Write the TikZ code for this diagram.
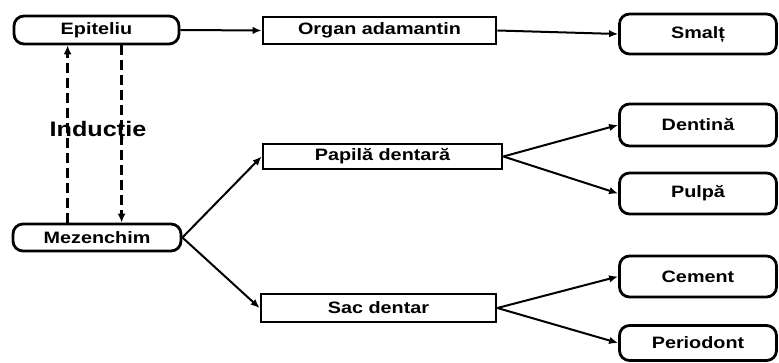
\documentclass[tikz,border=0pt]{standalone}
\usepackage{fontspec}
\setmainfont{Liberation Sans}[FakeStretch=1.2]
\usetikzlibrary{arrows.meta}
\begin{document}
\begin{tikzpicture}[x=1pt,y=-1pt,
  txt/.style={font=\fontsize{16.5}{18}\selectfont\bfseries},
  rbox/.style={txt,draw,line width=2.8pt,rounded corners=10pt,inner sep=0pt},
  sbox/.style={txt,draw,line width=2.8pt,inner sep=0pt},
  arr/.style={line width=2pt,-{Latex[length=9pt,width=7.5pt]}},
  darr/.style={line width=2.6pt,dash pattern=on 10pt off 5pt,-{Latex[length=9pt,width=8pt]}}]
\useasboundingbox (0,0) rectangle (779,363);
% left column
\node[rbox,minimum width=165pt,minimum height=28pt] (epi) at (96.5,30) {Epiteliu};
\node[rbox,minimum width=168pt,minimum height=27pt] (mez) at (97,237.5) {Mezenchim};
% middle column
\node[sbox,minimum width=233pt,minimum height=27pt] (org) at (379.5,30.5) {Organ adamantin};
\node[sbox,minimum width=239pt,minimum height=25pt] (pap) at (382.5,156.5) {Papilă dentară};
\node[sbox,minimum width=235pt,minimum height=28pt] (sac) at (378.5,308) {Sac dentar};
% right column
\node[rbox,minimum width=157pt,minimum height=40pt] (sma) at (698,34) {Smalț};
\node[rbox,minimum width=157pt,minimum height=42pt] (den) at (698,125) {Dentină};
\node[rbox,minimum width=157pt,minimum height=41pt] (pul) at (698,193.5) {Pulpă};
\node[rbox,minimum width=157pt,minimum height=41pt] (cem) at (698,276.5) {Cement};
\node[rbox,minimum width=157pt,minimum height=35pt] (per) at (698,343) {Periodont};
% induction
\node[font=\fontsize{21}{23}\selectfont\bfseries] (ind) at (98,131) {Inducție};
\coordinate (d1) at ([xshift=55pt]epi.south west);
\coordinate (d2) at ([xshift=109pt]epi.south west);
\draw[darr] (d1 |- mez.north) -- (d1);
\draw[darr] (d2) -- (d2 |- mez.north);
% arrows
\draw[arr] (epi.east) -- (org.west);
\draw[arr] (org.east) -- (sma.west);
\draw[arr] (mez.east) -- (pap.west);
\draw[arr] (mez.east) -- (sac.west);
\draw[arr] (pap.east) -- (den.west);
\draw[arr] (pap.east) -- (pul.west);
\draw[arr] (sac.east) -- (cem.west);
\draw[arr] (sac.east) -- (per.west);
\end{tikzpicture}
\end{document}
